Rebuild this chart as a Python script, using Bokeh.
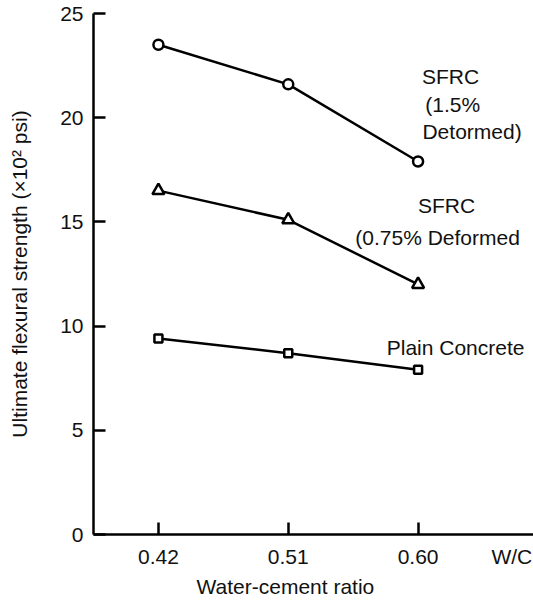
from bokeh.plotting import figure
from bokeh.models import Range1d, FixedTicker, Label, Title
from bokeh.embed import file_html
from bokeh.resources import INLINE

# ---- data ----
wc = [0.42, 0.51, 0.60]
sfrc_15 = [23.5, 21.6, 17.9]      # SFRC (1.5% deformed)
sfrc_075 = [16.5, 15.1, 12.0]     # SFRC (0.75% deformed)
plain = [9.4, 8.7, 7.9]           # plain concrete
y_ticks = [0, 5, 10, 15, 20, 25]
x_ticks = [0.42, 0.51, 0.60]
x_tick_labels = ["0.42", "0.51", "0.60"]
x_unit_pos = 0.665
x_unit_label = "W/C"

FONT = "Liberation Sans"
FS = "21px"
TXT = "#111111"

p = figure(width=533, height=601, output_backend="svg", toolbar_location=None,
           x_range=Range1d(0.375, 0.68), y_range=Range1d(0, 25),
           min_border_left=93, min_border_right=0, min_border_top=13,
           min_border_bottom=67)
p.outline_line_color = None
p.xgrid.visible = False
p.ygrid.visible = False
p.background_fill_color = "white"
p.border_fill_color = "white"

for ax in (p.xaxis[0], p.yaxis[0]):
    ax.axis_line_width = 2.5
    ax.axis_line_color = "black"
    ax.major_tick_line_width = 2.5
    ax.major_tick_line_color = "black"
    ax.minor_tick_line_width = 2.5
    ax.minor_tick_line_color = "black"
    ax.major_label_text_font = FONT
    ax.major_label_text_font_size = FS
    ax.major_label_text_color = TXT
    ax.axis_label_text_font = FONT
    ax.axis_label_text_font_size = FS
    ax.axis_label_text_font_style = "normal"
    ax.axis_label_text_color = TXT

p.yaxis.ticker = FixedTicker(ticks=y_ticks)
p.yaxis.major_tick_in = 12
p.yaxis.major_tick_out = 0
p.yaxis.minor_tick_line_color = None
p.yaxis.major_label_standoff = 10
p.yaxis.axis_label = "Ultimate flexural strength (×10² psi)"
p.yaxis.axis_label_standoff = 26

# x: labelled major ticks (no marks) + unlabelled minor marks at the data ticks
p.xaxis.ticker = FixedTicker(ticks=x_ticks + [x_unit_pos], minor_ticks=x_ticks)
p.xaxis.major_tick_in = 0
p.xaxis.major_tick_out = 0
p.xaxis.minor_tick_in = 12
p.xaxis.minor_tick_out = 0
overrides = {t: s for t, s in zip(x_ticks, x_tick_labels)}
overrides[x_unit_pos] = x_unit_label
p.xaxis.major_label_overrides = overrides
p.xaxis.major_label_standoff = 10

p.add_layout(Title(text="Water-cement ratio", align="left", offset=103,
                   text_font=FONT, text_font_size=FS, text_font_style="normal",
                   text_color=TXT, standoff=4), "below")

series = [(sfrc_15, "circle", 10), (sfrc_075, "triangle", 12), (plain, "square", 8)]
for ys, mk, sz in series:
    p.line(wc, ys, line_color="black", line_width=2.5)
    p.scatter(wc, ys, marker=mk, size=sz, fill_color="white",
              line_color="black", line_width=2.5)

def lab(x, y, text, align="center"):
    p.add_layout(Label(x=x, y=y, text=text, text_font=FONT, text_font_size=FS,
                       text_color=TXT, text_align=align,
                       text_baseline="alphabetic"))

lab(0.6225, 22.0, "SFRC")
lab(0.6240, 20.65, "(1.5%")
lab(0.6374, 19.35, "Detormed)")
lab(0.6197, 15.8, "SFRC")
lab(0.6135, 14.26, "(0.75% Deformed")
lab(0.6260, 8.99, "Plain Concrete")

open("out.html", "w").write(file_html(p, INLINE))
